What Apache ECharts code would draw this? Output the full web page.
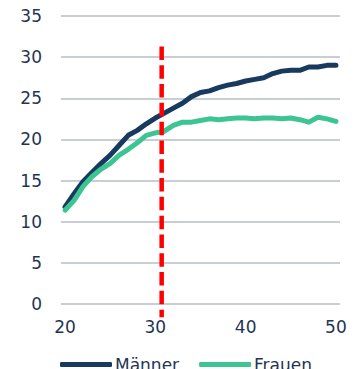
<!DOCTYPE html>
<html>
<head>
<meta charset="utf-8">
<script src="https://cdn.jsdelivr.net/npm/echarts@6/dist/echarts.min.js"></script>
<style>
  html, body { margin: 0; padding: 0; background: #fff; }
  #chart { width: 358px; height: 369px; }
</style>
</head>
<body>
<div id="chart"></div>
<script>
var ages = [20, 21, 22, 23, 24, 25, 26, 27, 28, 29, 30, 31, 32, 33, 34, 35, 36, 37, 38, 39, 40, 41, 42, 43, 44, 45, 46, 47, 48, 49, 50];
var maenner = [11.8, 13.4, 14.9, 16.0, 17.1, 18.1, 19.3, 20.5, 21.1, 21.9, 22.6, 23.2, 23.8, 24.4, 25.2, 25.7, 25.9, 26.3, 26.6, 26.8, 27.1, 27.3, 27.5, 28.0, 28.3, 28.4, 28.4, 28.8, 28.8, 29.0, 29.0];
var frauen = [11.4, 12.6, 14.3, 15.5, 16.4, 17.1, 18.1, 18.8, 19.6, 20.5, 20.8, 21.0, 21.7, 22.1, 22.1, 22.3, 22.5, 22.4, 22.5, 22.6, 22.6, 22.5, 22.6, 22.6, 22.5, 22.6, 22.4, 22.1, 22.7, 22.5, 22.2];
var xTicks = [20, 30, 40, 50];
var markerAge = 30.7;
var markerRange = [31.3, -1.6];

var font = 'DejaVu Sans';
var textColor = '#1f3553';

function pairs(xs, ys) {
    return xs.map(function (x, i) { return [x, ys[i]]; });
}

var myChart = echarts.init(document.getElementById('chart'), null, { renderer: 'svg' });
var option = {
    animation: false,
    grid: {
        left: 61,
        right: 18,
        top: 16,
        bottom: 65
    },
    legend: {
        data: ['Männer', 'Frauen'],
        left: 55,
        top: 351,
        icon: 'roundRect',
        itemWidth: 52,
        itemHeight: 5,
        itemGap: 20,
        textStyle: {
            color: textColor,
            fontFamily: font,
            fontSize: 17,
            padding: [0, 0, 0, -2]
        }
    },
    xAxis: {
        type: 'value',
        min: 19.55,
        max: 50.45,
        axisLine: { show: false },
        axisTick: { show: false },
        splitLine: { show: false },
        axisLabel: {
            customValues: xTicks,
            color: textColor,
            fontFamily: font,
            fontSize: 17,
            margin: 14
        }
    },
    yAxis: {
        type: 'value',
        min: 0,
        max: 35,
        interval: 5,
        axisLine: { show: false },
        axisTick: { show: false },
        axisLabel: {
            color: textColor,
            fontFamily: font,
            fontSize: 17,
            margin: 19
        },
        splitLine: {
            show: true,
            lineStyle: { color: '#c9ced6', width: 2 }
        }
    },
    series: [{
        name: 'Männer',
        type: 'line',
        data: pairs(ages, maenner),
        symbol: 'none',
        color: '#173a5e',
        z: 3,
        lineStyle: { width: 5, color: '#173a5e', cap: 'round', join: 'round' }
    }, {
        name: 'Frauen',
        type: 'line',
        data: pairs(ages, frauen),
        symbol: 'none',
        color: '#3cc493',
        z: 3,
        lineStyle: { width: 5, color: '#3cc493', cap: 'round', join: 'round' }
    }, {
        name: 'marker',
        type: 'line',
        data: [[markerAge, markerRange[0]], [markerAge, markerRange[1]]],
        symbol: 'none',
        clip: false,
        silent: true,
        z: 5,
        lineStyle: { width: 4.5, color: '#ff0000', type: [13.5, 5.3] }
    }]
};

myChart.setOption(option);
</script>
</body>
</html>
